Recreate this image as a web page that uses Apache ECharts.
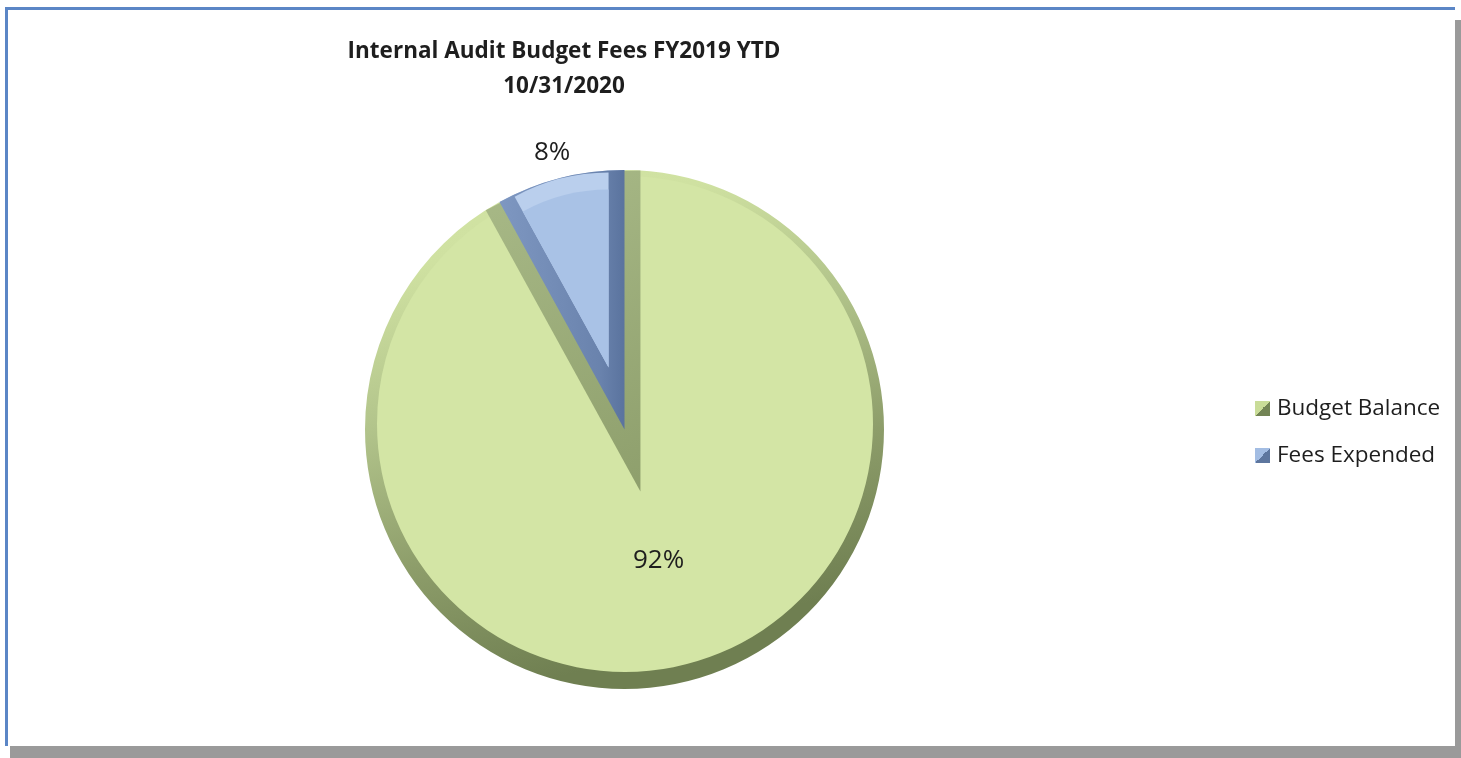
<!DOCTYPE html>
<html>
<head>
<meta charset="utf-8">
<script src="https://cdn.jsdelivr.net/npm/echarts@6/dist/echarts.min.js"></script>
<style>
html,body{margin:0;padding:0;background:#fff;}
#chart{width:1461px;height:758px;}
</style>
</head>
<body>
<div id="chart"></div>
<script>
// ---- data ----
const titleLines = ['Internal Audit Budget Fees FY2019 YTD', '10/31/2020'];
const categories = ['Budget Balance', 'Fees Expended'];
const values = [92, 8];

// ---- styles ----
const lightGreen = '#d3e5a5';
const lightBlue = '#a9c2e6';
const bandBlue = '#bacfed';

function lg(x2, y2, stops) {
  return new echarts.graphic.LinearGradient(0, 0, x2, y2,
    stops.map(s => ({ offset: s[0], color: s[1] })));
}
const rimGreen = lg(0.3, 1, [[0, '#d3e5a5'], [0.2, '#cfe1a1'], [0.46, '#b2c48b'], [0.73, '#8d9d6a'], [1, '#6f7f51']]);
const rimBlue = lg(0.3, 1, [[0, '#bcd0ee'], [1, '#8aa2c9']]);
const stripGreen = lg(1, 1, [[0, '#a9ba88'], [1, '#8e9f6c']]);
const stripBlue = lg(1, 0, [[0, '#7e97c1'], [0.8, '#6a83ad'], [1, '#5a739e']]);

// build pie data where only the chosen slice is painted
function onlySlice(idx, color) {
  return categories.map((name, i) => ({
    name, value: values[i],
    itemStyle: { color: i === idx ? color : 'rgba(0,0,0,0)' }
  }));
}

const C = [624.5, 429.5];       // pie centre
const R = 259.5;                // outer radius
const bevel = 64;               // apex shift for bevel inset of the small slice
const ux = 0.249, uy = 0.968;   // direction of small slice bisector
const pieCommon = { type: 'pie', startAngle: 90, clockwise: true, silent: true,
  label: { show: false }, labelLine: { show: false } };

const chart = echarts.init(document.getElementById('chart'), null, { renderer: 'canvas' });
chart.setOption({
  animation: false,
  backgroundColor: '#ffffff',
  graphic: [
    { type: 'rect', z: -10, silent: true, shape: { x: 10, y: 20, width: 1451, height: 738 }, style: { fill: '#9a9a9a' } },
    { type: 'rect', z: -9, silent: true, shape: { x: 6, y: 7, width: 1449, height: 739 }, style: { fill: '#ffffff' } },
    { type: 'line', z: -8, silent: true, shape: { x1: 5, y1: 8.5, x2: 1455, y2: 8.5 }, style: { stroke: '#5b86c6', lineWidth: 3 } },
    { type: 'line', z: -8, silent: true, shape: { x1: 6.5, y1: 7, x2: 6.5, y2: 746 }, style: { stroke: '#5b86c6', lineWidth: 3 } }
  ],
  title: {
    text: titleLines.join('\n'),
    left: 559,
    top: 29,
    textAlign: 'center',
    textStyle: {
      fontFamily: 'Open Sans',
      fontWeight: 'bold',
      fontSize: 22.5,
      lineHeight: 35,
      color: '#1e1e1e'
    }
  },
  legend: {
    orient: 'vertical',
    left: 1250,
    top: 392,
    itemWidth: 15,
    itemHeight: 15,
    itemGap: 24,
    icon: 'rect',
    textStyle: { fontFamily: 'Open Sans', fontSize: 22.5, lineHeight: 23, color: '#1e1e1e', padding: [0, 0, 0, 2] },
    data: categories.map((name, i) => ({
      name,
      itemStyle: { color: lg(1, 1, [
        [0, i === 0 ? '#c9dc98' : '#a3bde3'], [0.5, i === 0 ? '#c9dc98' : '#a3bde3'],
        [0.5, i === 0 ? '#738455' : '#5d769e'], [1, i === 0 ? '#738455' : '#5d769e']
      ]) }
    }))
  },
  series: [
    // 1. rim / base
    Object.assign({}, pieCommon, {
      name: 'base', center: C, radius: R,
      data: categories.map((name, i) => ({ name, value: values[i],
        itemStyle: { color: i === 0 ? rimGreen : rimBlue } }))
    }),
    // 2. light green face (carries labels)
    {
      type: 'pie', name: 'face', center: [625, 424], radius: 248,
      startAngle: 90, clockwise: true, z: 2,
      label: {
        show: true, formatter: '{d}%', fontFamily: 'Open Sans', fontSize: 26, color: '#1e1e1e'
      },
      labelLine: { show: false, length: 8, length2: 0 },
      labelLayout: function (p) {
        if (p.dataIndex === 1) return { dx: 14, dy: -23 };
        return { dx: 2, dy: 14 };
      },
      data: categories.map((name, i) => ({
        name, value: values[i],
        itemStyle: { color: lightGreen },
        label: { position: i === 0 ? 'inside' : 'outside' }
      }))
    },
    // 3. green bevel strips beside the small slice (expanded small slice)
    Object.assign({}, pieCommon, {
      name: 'stripG', z: 3,
      center: [C[0] + bevel * ux, C[1] + bevel * uy], radius: 321,
      data: onlySlice(1, stripGreen)
    }),
    // 4. small slice dark bevel strips
    Object.assign({}, pieCommon, {
      name: 'stripB', z: 4, center: C, radius: R,
      data: onlySlice(1, stripBlue)
    }),
    // 5. small slice light top band
    Object.assign({}, pieCommon, {
      name: 'bandB', z: 5,
      center: [C[0] - bevel * ux, C[1] - bevel * uy], radius: 195,
      data: onlySlice(1, bandBlue)
    }),
    // 6. small slice face
    Object.assign({}, pieCommon, {
      name: 'faceB', z: 6,
      center: [C[0] - bevel * ux, C[1] - bevel * uy], radius: 178,
      data: onlySlice(1, lightBlue)
    })
  ]
});
</script>
</body>
</html>
